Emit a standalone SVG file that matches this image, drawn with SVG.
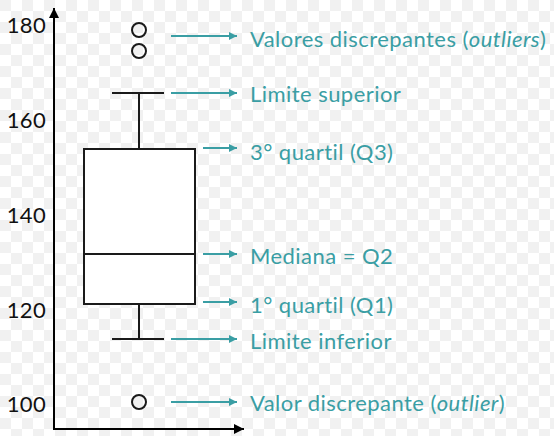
<svg xmlns="http://www.w3.org/2000/svg" width="554" height="436" viewBox="0 0 554 436">
<defs>
<pattern id="chk" width="22" height="22" patternUnits="userSpaceOnUse">
<rect width="22" height="22" fill="#ffffff"/>
<rect width="11" height="11" fill="#f1f1f1"/>
<rect x="11" y="11" width="11" height="11" fill="#f1f1f1"/>
</pattern>
<marker id="ah" viewBox="0 0 10 10" refX="10" refY="5" markerWidth="8" markerHeight="8" markerUnits="userSpaceOnUse" orient="auto">
<path d="M0,0 L10,5 L0,10 z" fill="#3a9ea4"/>
</marker>
<marker id="axh" viewBox="0 0 10 10" refX="10" refY="5" markerWidth="10" markerHeight="10" markerUnits="userSpaceOnUse" orient="auto">
<path d="M0,0 L10,5 L0,10 z" fill="#000"/>
</marker>
</defs>
<style>
.ax{stroke:#000;stroke-width:2;fill:none}
.bx{stroke:#1a1a1a;stroke-width:2;fill:none}
.tk{font-family:"Lato","Liberation Sans",sans-serif;font-size:22px;fill:#111;text-anchor:end;letter-spacing:0.3px}
.lb{font-family:"Lato","Liberation Sans",sans-serif;font-size:22px;fill:#3a9ea4;letter-spacing:0.45px}
.ar{stroke:#3a9ea4;stroke-width:1.8;fill:none;marker-end:url(#ah)}
.it{font-style:italic}
</style>
<rect width="554" height="436" fill="url(#chk)"/>
<g id="axes">
<line class="ax" x1="54" y1="430" x2="54" y2="8" marker-end="url(#axh)"/>
<line class="ax" x1="53" y1="429" x2="244" y2="429" marker-end="url(#axh)"/>
<text class="tk" x="46" y="33">180</text>
<text class="tk" x="46" y="128">160</text>
<text class="tk" x="46" y="223">140</text>
<text class="tk" x="46" y="318">120</text>
<text class="tk" x="46" y="412">100</text>
</g>
<g id="boxplot">
<rect x="84" y="149" width="111" height="155" fill="#fff" stroke="#1a1a1a" stroke-width="2"/>
<line class="bx" x1="84" y1="254" x2="195" y2="254"/>
<line class="bx" x1="139" y1="93" x2="139" y2="149"/>
<line class="bx" x1="112" y1="93" x2="164" y2="93"/>
<line class="bx" x1="139" y1="304" x2="139" y2="339"/>
<line class="bx" x1="112" y1="339" x2="164" y2="339"/>
<circle class="bx" cx="139" cy="30" r="7"/>
<circle class="bx" cx="139" cy="51" r="7"/>
<circle class="bx" cx="139" cy="402" r="7"/>
</g>
<g id="connectors">
<line class="ar" x1="171" y1="36" x2="237" y2="36"/>
<line class="ar" x1="171" y1="93" x2="237" y2="93"/>
<line class="ar" x1="203" y1="148" x2="237" y2="148"/>
<line class="ar" x1="203" y1="254" x2="237" y2="254"/>
<line class="ar" x1="203" y1="302" x2="237" y2="302"/>
<line class="ar" x1="171" y1="339" x2="237" y2="339"/>
<line class="ar" x1="171" y1="402" x2="237" y2="402"/>
</g>
<g id="label-outliers"><text class="lb" x="250" y="47">Valores discrepantes (<tspan class="it">outliers</tspan>)</text></g>
<g id="label-limite-superior"><text class="lb" x="250" y="102">Limite superior</text></g>
<g id="label-q3"><text class="lb" x="250" y="160">3° quartil (Q3)</text></g>
<g id="label-mediana"><text class="lb" x="250" y="264">Mediana = Q2</text></g>
<g id="label-q1"><text class="lb" x="250" y="313">1° quartil (Q1)</text></g>
<g id="label-limite-inferior"><text class="lb" x="250" y="349">Limite inferior</text></g>
<g id="label-outlier"><text class="lb" x="250" y="411">Valor discrepante (<tspan class="it">outlier</tspan>)</text></g>
</svg>
